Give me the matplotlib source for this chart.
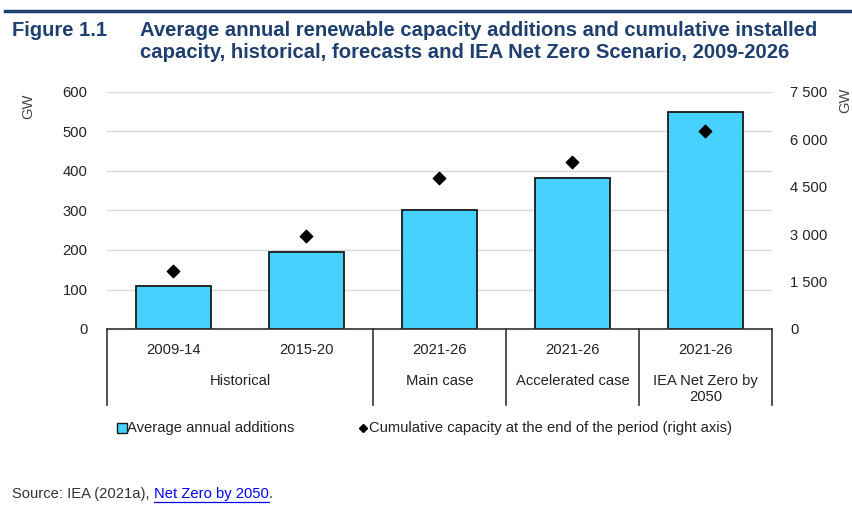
import matplotlib
matplotlib.use("Agg")
import matplotlib.pyplot as plt
from matplotlib.lines import Line2D

plt.rcParams['font.family'] = ['Liberation Sans', 'DejaVu Sans']

periods = ["2009-14", "2015-20", "2021-26", "2021-26", "2021-26"]
groups = ["Historical", "Main case", "Accelerated case", "IEA Net Zero by\n2050"]
group_spans = [(0, 2), (2, 3), (3, 4), (4, 5)]
annual_additions = [108, 194, 302, 383, 549]
cumulative = [1830, 2950, 4790, 5290, 6270]
left_ticks = [0, 100, 200, 300, 400, 500, 600]
right_ticks = [0, 1500, 3000, 4500, 6000, 7500]
right_tick_labels = ["0", "1 500", "3 000", "4 500", "6 000", "7 500"]

FS = 10.6
TXT = "#222222"
W, H = 853, 508
fig = plt.figure(figsize=(W / 100, H / 100), dpi=100)
ax = fig.add_axes([107 / W, 1 - 329 / H, (772 - 107) / W, (329 - 92) / H])
ax2 = ax.twinx()

x = list(range(len(annual_additions)))
ax.bar(x, annual_additions, width=0.565, color="#47D1FF", edgecolor="#1a1a1a",
       linewidth=1.3, zorder=3)
ax2.scatter(x, cumulative, marker="D", s=40, color="black", zorder=4)

ax.set_xlim(-0.5, len(x) - 0.5)
ax.set_ylim(0, 600)
ax2.set_ylim(0, 7500)
ax.set_yticks(left_ticks)
ax2.set_yticks(right_ticks)
ax2.set_yticklabels(right_tick_labels)
ax.set_xticks([])
ax.grid(axis="y", color="#D9D9D9", linewidth=1, zorder=0)
ax.set_axisbelow(True)
for a in (ax, ax2):
    for s in ("top", "right", "left", "bottom"):
        a.spines[s].set_visible(False)
ax.tick_params(axis="y", length=0, pad=14, labelsize=FS, labelcolor=TXT)
ax2.tick_params(axis="y", length=0, pad=13, labelsize=FS, labelcolor=TXT)

# bottom frame of category axis
axis_y = 1 - 329 / H
bottom_y = 1 - 405 / H
fig.add_artist(Line2D([107 / W, 772 / W], [axis_y, axis_y], color="#333333", lw=1.2))
for xb in [107, 373, 506, 639, 772]:
    fig.add_artist(Line2D([xb / W, xb / W], [axis_y, bottom_y], color="#333333", lw=1.2))

for i, p in enumerate(periods):
    fig.text((107 + 133 * (i + 0.5)) / W, 1 - 350 / H, p, ha="center", va="center",
             fontsize=FS, color=TXT)
for g, (a, b) in zip(groups, group_spans):
    xc = (107 + 133 * (a + b) / 2) / W
    lines = g.split("\n")
    for k, line in enumerate(lines):
        fig.text(xc, 1 - (381 + 16 * k) / H, line, ha="center", va="center",
                 fontsize=FS, color=TXT)

# axis unit labels
fig.text(28 / W, 1 - 106 / H, "GW", rotation=90, ha="center", va="center",
         fontsize=FS, color="#444444")
fig.text(845 / W, 1 - 100 / H, "GW", rotation=90, ha="center", va="center",
         fontsize=FS, color="#444444")

# legend
fig.add_artist(Line2D([122 / W], [1 - 428 / H], marker="s", markersize=6.5,
                      markerfacecolor="#47D1FF", markeredgecolor="#1a1a1a",
                      markeredgewidth=1, linestyle="none"))
fig.text(127 / W, 1 - 428 / H, "Average annual additions", ha="left", va="center",
         fontsize=FS, color=TXT)
fig.add_artist(Line2D([363 / W], [1 - 428 / H], marker="D", markersize=4,
                      color="black", linestyle="none"))
fig.text(369 / W, 1 - 428 / H, "Cumulative capacity at the end of the period (right axis)",
         ha="left", va="center", fontsize=FS, color=TXT)

# header
navy = "#1F3F6E"
fig.add_artist(Line2D([5 / W, 1.0], [1 - 11 / H, 1 - 11 / H], color=navy, lw=2.5))
fig.text(12 / W, 1 - 31 / H, "Figure 1.1", ha="left", va="center", fontsize=14.5,
         fontweight="bold", color=navy)
fig.text(140 / W, 1 - 31 / H, "Average annual renewable capacity additions and cumulative installed",
         ha="left", va="center", fontsize=14.6, fontweight="bold", color=navy)
fig.text(140 / W, 1 - 53 / H, "capacity, historical, forecasts and IEA Net Zero Scenario, 2009-2026",
         ha="left", va="center", fontsize=14.6, fontweight="bold", color=navy)

# source
src = fig.text(12 / W, 1 - 494 / H, "Source: IEA (2021a), ", ha="left", va="center",
               fontsize=FS, color="#333333")
fig.canvas.draw()
bb = src.get_window_extent()
link = fig.text(bb.x1 / W, 1 - 494 / H, "Net Zero by 2050", ha="left", va="center",
                fontsize=FS, color="#0000EE")
fig.canvas.draw()
lb = link.get_window_extent()
fig.add_artist(Line2D([lb.x0 / W, lb.x1 / W], [(lb.y0 - 0.5) / H, (lb.y0 - 0.5) / H],
                      color="#0000EE", lw=0.9))
fig.text(lb.x1 / W, 1 - 494 / H, ".", ha="left", va="center", fontsize=FS, color="#333333")

fig.savefig("out.png", dpi=100)
